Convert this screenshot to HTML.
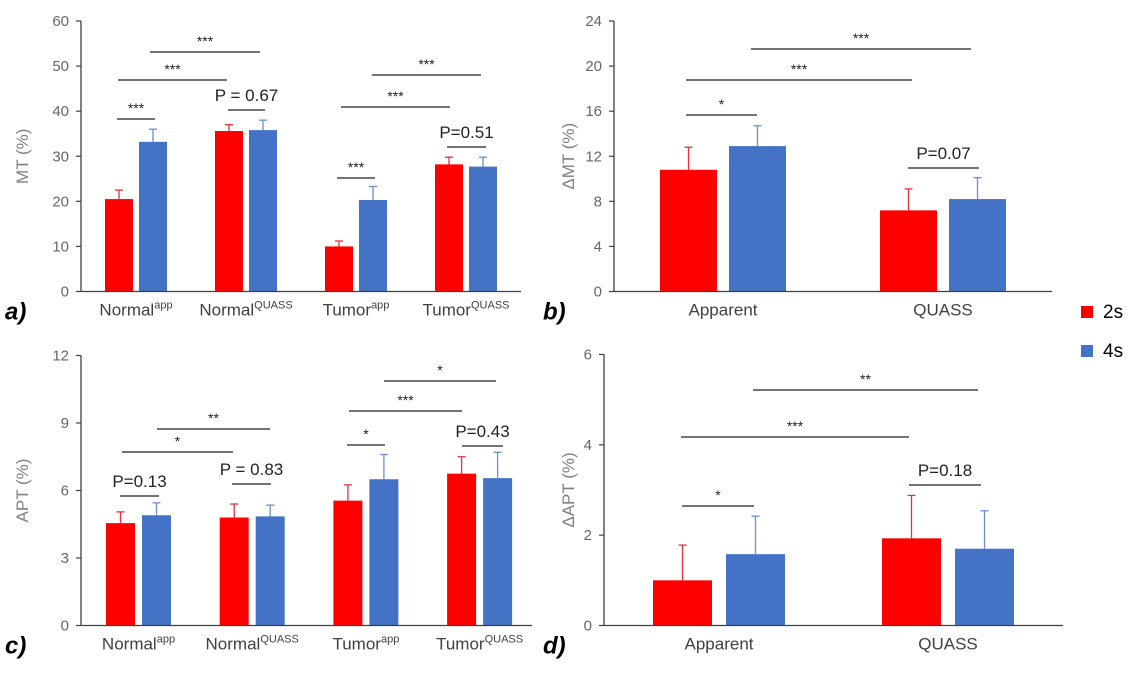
<!DOCTYPE html>
<html><head><meta charset="utf-8">
<style>
html,body{margin:0;padding:0;background:#fff;}
svg{display:block;font-family:"Liberation Sans",Arial,sans-serif;}
</style></head>
<body>
<svg id="fig" width="1138" height="678" viewBox="0 0 1138 678" xmlns="http://www.w3.org/2000/svg"></svg>
<script>
// ---- Data ----
const catsA = ["Normal|app","Normal|QUASS","Tumor|app","Tumor|QUASS"];
const mt2s = [20.5, 35.6, 10.0, 28.2];
const mt4s = [33.2, 35.8, 20.3, 27.7];
const mt2sErr = [22.5, 37.0, 11.2, 29.8];
const mt4sErr = [36.0, 38.0, 23.3, 29.8];
const mtTicks = [0,10,20,30,40,50,60];

const catsB = ["Apparent","QUASS"];
const dmt2s = [10.8, 7.2];
const dmt4s = [12.9, 8.2];
const dmt2sErr = [12.8, 9.1];
const dmt4sErr = [14.7, 10.1];
const dmtTicks = [0,4,8,12,16,20,24];

const apt2s = [4.55, 4.8, 5.55, 6.75];
const apt4s = [4.9, 4.85, 6.5, 6.55];
const apt2sErr = [5.05, 5.4, 6.25, 7.5];
const apt4sErr = [5.45, 5.35, 7.6, 7.7];
const aptTicks = [0,3,6,9,12];

const dapt2s = [1.0, 1.93];
const dapt4s = [1.58, 1.7];
const dapt2sErr = [1.78, 2.88];
const dapt4sErr = [2.42, 2.54];
const daptTicks = [0,2,4,6];

const NS="http://www.w3.org/2000/svg";
const svg=document.getElementById('fig');
function mk(tag,attrs,parent){const e=document.createElementNS(NS,tag);for(const k in attrs)e.setAttribute(k,attrs[k]);(parent||svg).appendChild(e);return e;}

function panel(p){
  const g=mk('g',{});
  
  
  const y=v=>p.y0-(v-p.ticks[0])/(p.ticks[p.ticks.length-1]-p.ticks[0])*(p.y0-p.yTop);
  p.cats.forEach((c,i)=>{
    const cx=p.c0+i*p.step;
    [[p.s1,p.e1,'#ff0000','#e8303a',cx-p.gap/2-p.bw],[p.s2,p.e2,'#4472c4','#6b8fd0',cx+p.gap/2]].forEach((s,j)=>{
      const v=s[0][i], e=s[1][i], x=s[4];
      const ex=x+p.bw/2;
      const eb=mk('line',{x1:ex,x2:ex,y1:y(v),y2:y(e),stroke:s[3],'stroke-width':1.3},g);
      
      
      const cap=mk('line',{x1:ex-4,x2:ex+4,y1:y(e),y2:y(e),stroke:s[3],'stroke-width':1.3},g);
      
      
      const r=mk('rect',{x:x,y:y(v),width:p.bw,height:y(0)-y(v),fill:s[2]},g);
      
      
    });
    const parts=c.split('|');
    const t=mk('text',{x:cx,y:p.y0+24,'text-anchor':'middle','font-size':17,fill:'#404040'},g);
    
    
    t.appendChild(document.createTextNode(parts[0]));
    if(parts[1]){const ts=mk('tspan',{'font-size':11,dy:-7},t);ts.textContent=parts[1];}
  });
  const ya=mk('line',{x1:p.ax,x2:p.ax,y1:p.yTop,y2:p.y0,stroke:'#404040','stroke-width':1.3},g);
  
  
  const xa=mk('line',{x1:p.ax,x2:p.xEnd,y1:p.y0,y2:p.y0,stroke:'#404040','stroke-width':1.3},g);
  
  
  p.ticks.forEach(v=>{
    const tk=mk('line',{x1:p.ax-5,x2:p.ax,y1:y(v),y2:y(v),stroke:'#404040','stroke-width':1.2},g);
    
    
    const tl=mk('text',{x:p.ax-12,y:y(v)+5,'text-anchor':'end','font-size':15,fill:'#666'},g);
    
    
    tl.textContent=v;
  });
  const yt=mk('text',{x:0,y:0,'text-anchor':'middle','font-size':17,fill:'#808080',transform:`translate(${p.titleX},${(p.yTop+p.y0)/2}) rotate(-90)`},g);
  
  
  yt.textContent=p.title;
  const pl=mk('text',{x:p.letX,y:p.y0+28,'font-size':24,'font-weight':'bold','font-style':'italic',fill:'#000'},g);
  
  
  pl.textContent=p.letter;
  p.sig.forEach(s=>{
    const l=mk('line',{x1:s[0],x2:s[1],y1:s[2],y2:s[2],stroke:'#222','stroke-width':1.2},g);
    
    
    const isP=s[3].startsWith('P');
    const t=mk('text',{x:(s[0]+s[1])/2,y:isP?s[2]-9:s[2]-6,'text-anchor':'middle','font-size':isP?17:14,fill:'#222'},g);
    
    
    t.textContent=s[3];
  });
}

panel({name:'panel-a-mt',cats:catsA,s1:mt2s,s2:mt4s,e1:mt2sErr,e2:mt4sErr,ticks:mtTicks,
  ax:81,xEnd:521,y0:291.5,yTop:21,c0:136,step:110,bw:28,gap:6,title:'MT (%)',titleX:28,letter:'a)',letX:5,
  sig:[[117,155,119,'***'],[118,227,80,'***'],[150,260,52,'***'],[228,265,110,'P = 0.67'],
       [337,375,178,'***'],[341,450,107,'***'],[372,481,75,'***'],[447,486,147,'P=0.51']]});
panel({name:'panel-b-delta-mt',cats:catsB,s1:dmt2s,s2:dmt4s,e1:dmt2sErr,e2:dmt4sErr,ticks:dmtTicks,
  ax:614,xEnd:1052,y0:291.5,yTop:21,c0:723,step:220,bw:57,gap:12,title:'ΔMT (%)',titleX:574,letter:'b)',letX:543,
  sig:[[686,757,115,'*'],[686,912,80,'***'],[751,971,49,'***'],[908,979,168,'P=0.07']]});
panel({name:'panel-c-apt',cats:catsA,s1:apt2s,s2:apt4s,e1:apt2sErr,e2:apt4sErr,ticks:aptTicks,
  ax:81,xEnd:532,y0:625.5,yTop:355.5,c0:138.5,step:113.7,bw:29,gap:7,title:'APT (%)',titleX:28,letter:'c)',letX:5,
  sig:[[120,159,496,'P=0.13'],[122,233,452,'*'],[157,270,429,'**'],[232,271,484,'P = 0.83'],
       [347,385,445,'*'],[349,462,411,'***'],[384,496,381,'*'],[462,503,446,'P=0.43']]});
panel({name:'panel-d-delta-apt',cats:catsB,s1:dapt2s,s2:dapt4s,e1:dapt2sErr,e2:dapt4sErr,ticks:daptTicks,
  ax:604,xEnd:1063,y0:625.5,yTop:354.5,c0:719,step:229,bw:59,gap:14,title:'ΔAPT (%)',titleX:574,letter:'d)',letX:543,
  sig:[[682,754,506,'*'],[681,909,437,'***'],[753,978,390,'**'],[909,981,485,'P=0.18']]});

[['#ff0000','2s',306],['#4472c4','4s',345]].forEach(l=>{
  const r=mk('rect',{x:1081,y:l[2],width:12,height:12,fill:l[0]});
  
  
  const t=mk('text',{x:1103,y:l[2]+12,'font-size':19,fill:'#000'});
  
  
  t.textContent=l[1];
});
</script>
</body></html>
